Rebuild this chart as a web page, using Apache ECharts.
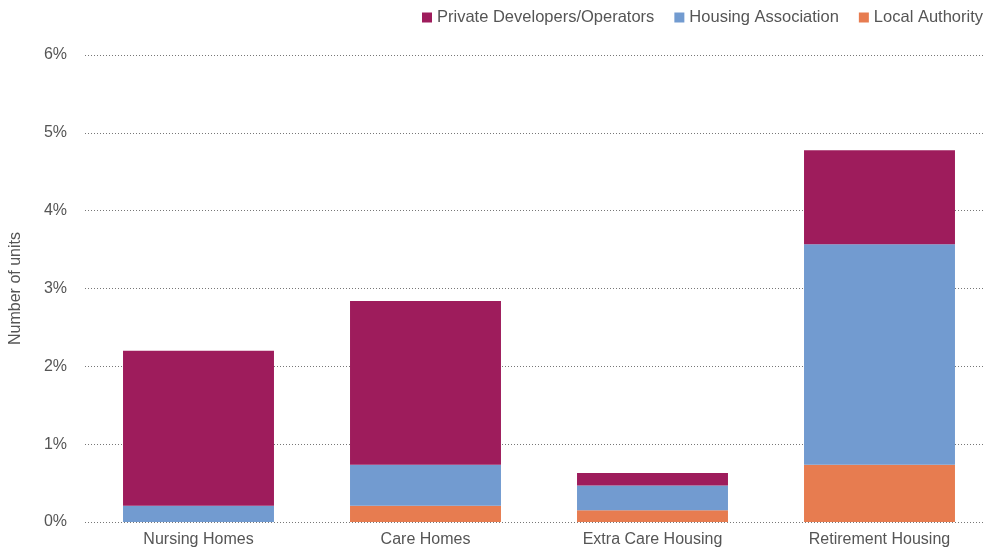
<!DOCTYPE html>
<html>
<head>
<meta charset="utf-8">
<script src="https://cdn.jsdelivr.net/npm/echarts@6/dist/echarts.min.js"></script>
<style>
html, body { margin: 0; padding: 0; background: #fff; }
#chart { width: 984px; height: 551px; }
</style>
</head>
<body>
<div id="chart"></div>
<script>
// data
var categories = ['Nursing Homes', 'Care Homes', 'Extra Care Housing', 'Retirement Housing'];
var localAuthority = [0, 0.21, 0.15, 0.735];
var housingAssoc = [0.21, 0.525, 0.32, 2.835];
var privateDev = [1.99, 2.105, 0.16, 1.205];

var font = 'Liberation Sans';
var myChart = echarts.init(document.getElementById('chart'));

myChart.setOption({
    animation: false,
    textStyle: { fontFamily: font },
    legend: {
        top: 9,
        right: 1,
        padding: 0,
        itemWidth: 10,
        itemHeight: 10,
        itemGap: 20,
        icon: 'rect',
        textStyle: { color: '#555', fontSize: 16.5, fontFamily: font },
        data: ['Private Developers/Operators', 'Housing Association', 'Local Authority']
    },
    grid: { left: 85, width: 908, top: 55, bottom: 29, outerBoundsMode: 'none', containLabel: false },
    xAxis: {
        type: 'category',
        data: categories,
        axisLine: { show: false },
        axisTick: { show: false },
        axisLabel: { color: '#555', fontSize: 16, margin: 10, fontFamily: font }
    },
    yAxis: {
        type: 'value',
        min: 0,
        max: 6,
        interval: 1,
        name: 'Number of units',
        nameLocation: 'middle',
        nameGap: 61,
        nameTextStyle: { color: '#555', fontSize: 16, fontFamily: font },
        axisLabel: { color: '#555', fontSize: 16, margin: 18, fontFamily: font,
            formatter: function (v) { return v + '%'; } },
        splitLine: { lineStyle: { color: '#777', type: [1, 2], width: 1 } }
    },
    series: [
        { name: 'Local Authority', type: 'bar', stack: 'a', barWidth: '66.5%',
          itemStyle: { color: '#E77C50' }, data: localAuthority },
        { name: 'Housing Association', type: 'bar', stack: 'a',
          itemStyle: { color: '#729BD0' }, data: housingAssoc },
        { name: 'Private Developers/Operators', type: 'bar', stack: 'a',
          itemStyle: { color: '#9E1C5C' }, data: privateDev }
    ]
});

window.onresize = function () {
    myChart.resize();
};
</script>
</body>
</html>
